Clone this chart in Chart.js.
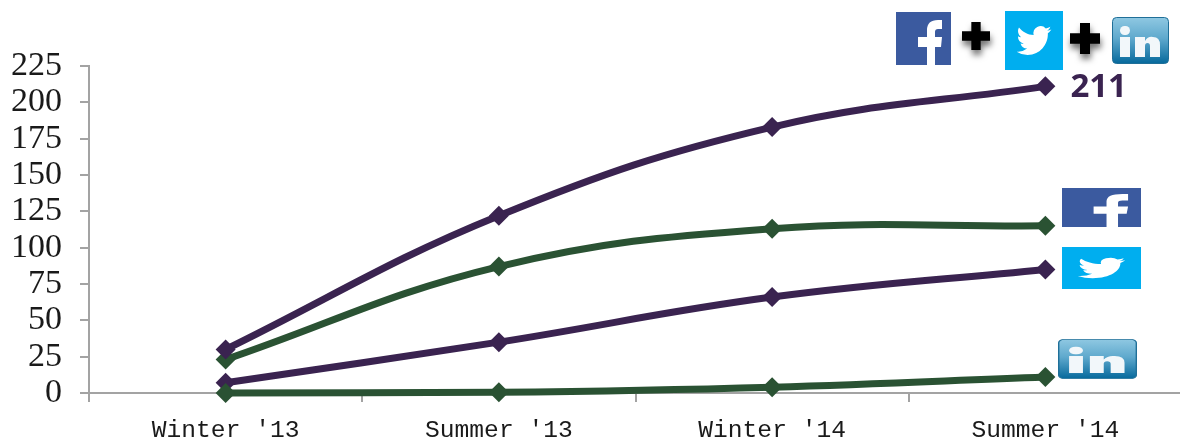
<!DOCTYPE html>
<html lang="en">
<head>
  <meta charset="UTF-8" />
  <title>Social media followers</title>
  <script src="https://cdn.jsdelivr.net/npm/chart.js"></script>
  <style>
    html, body { margin: 0; padding: 0; width: 1180px; height: 440px; overflow: hidden; background: #fff; }
    #chart { position: absolute; left: 0; top: 0; }
    svg.icon { position: absolute; overflow: visible; }
    svg.plus { filter: drop-shadow(1px 5px 3px rgba(0,0,0,.55)); }
  </style>
</head>
<body>
  <canvas id="chart" width="1200" height="440" style="width:1200px;height:440px"></canvas>

  <svg width="0" height="0" style="position:absolute">
    <defs>
      <linearGradient id="liGrad" x1="0" y1="0" x2="0" y2="1">
        <stop offset="0" stop-color="#8fc8e2" />
        <stop offset="0.45" stop-color="#5fa9cd" />
        <stop offset="1" stop-color="#06699c" />
      </linearGradient>
    </defs>
    <symbol id="fb" viewBox="0 0 55 53" preserveAspectRatio="none">
      <rect width="55" height="53" fill="#3b5a9f" />
      <path fill="#fff" d="M31 53V35H22V25H31V18Q31 8 42 8H46V17H42Q39 17 39 20V25H46L45 35H39V53Z" />
    </symbol>
    <symbol id="tw" viewBox="-8 -8 40 40" preserveAspectRatio="none">
      <rect x="-8" y="-8" width="40" height="40" fill="#00aeef" />
      <path fill="#fff" d="M23.953 4.57a10 10 0 01-2.825.775 4.958 4.958 0 002.163-2.723c-.951.555-2.005.959-3.127 1.184a4.92 4.92 0 00-8.384 4.482C7.69 8.095 4.067 6.13 1.64 3.162a4.822 4.822 0 00-.666 2.475c0 1.71.87 3.213 2.188 4.096a4.904 4.904 0 01-2.228-.616v.06a4.923 4.923 0 003.946 4.827 4.996 4.996 0 01-2.212.085 4.936 4.936 0 004.604 3.417 9.867 9.867 0 01-6.102 2.105c-.39 0-.779-.023-1.17-.067a13.995 13.995 0 007.557 2.209c9.053 0 13.998-7.496 13.998-13.985 0-.21 0-.42-.015-.63A9.935 9.935 0 0024 4.59z" />
    </symbol>
    <symbol id="li" viewBox="0 0 57 47" preserveAspectRatio="none">
      <rect x="0.5" y="0.5" width="56" height="46" rx="4" fill="url(#liGrad)" stroke="#1f6f98" />
      <rect x="8" y="9" width="10" height="9" rx="4.5" fill="#f2f7fa" />
      <rect x="8" y="20" width="10" height="20" fill="#f2f7fa" />
      <path fill="#f2f7fa" d="M23 20H33V24Q36 19 41 20Q48 20 48 28V40H38V29Q38 26 35.5 26Q33 26 33 29V40H23Z" />
    </symbol>
    <symbol id="cross" viewBox="0 0 30 30" preserveAspectRatio="none">
      <path fill="#000" d="M10 0H20V10H30V20H20V30H10V20H0V10H10Z" />
    </symbol>
  </svg>

  <svg class="icon" style="left:896px;top:12px" width="55" height="53"><use href="#fb" width="55" height="53" /></svg>
  <svg class="icon plus" style="left:962px;top:22px" width="28" height="28"><use href="#cross" width="28" height="28" /></svg>
  <svg class="icon" style="left:1005px;top:11px" width="58" height="59"><use href="#tw" width="58" height="59" /></svg>
  <svg class="icon plus" style="left:1070px;top:23px" width="30" height="31"><use href="#cross" width="30" height="31" /></svg>
  <svg class="icon" style="left:1112px;top:17px" width="57" height="47"><use href="#li" width="57" height="47" /></svg>
  <svg class="icon" style="left:1062px;top:188px" width="79" height="39"><use href="#fb" width="79" height="39" /></svg>
  <svg class="icon" style="left:1062px;top:247px" width="79" height="42"><use href="#tw" width="79" height="42" /></svg>
  <svg class="icon" style="left:1058px;top:339px" width="79" height="40"><use href="#li" width="79" height="40" /></svg>

  <script>
    const categories = ["Winter '13", "Summer '13", "Winter '14", "Summer '14"];
    const combined = [30, 122, 183, 211];
    const facebook = [23, 87, 113, 115];
    const twitter = [7, 35, 66, 85];
    const linkedin = [0, 0.5, 4, 11];
    const combinedLabel = '211';

    const PURPLE = '#3a2350';
    const GREEN = '#2a5233';
    const AXIS = '#a3a3a3';

    function series(data, color) {
      return {
        data,
        borderColor: color,
        backgroundColor: color,
        borderWidth: 7,
        tension: 0.4,
        pointStyle: 'rectRot',
        pointRadius: 10,
        pointBorderWidth: 0,
        clip: false
      };
    }

    // the 211 next to the last point of the top line
    const endLabel = {
      id: 'endLabel',
      afterDatasetsDraw(chart) {
        const { ctx, scales } = chart;
        const x = scales.x.getPixelForValue(3);
        const y = scales.y.getPixelForValue(combined[3]);
        ctx.save();
        ctx.fillStyle = PURPLE;
        ctx.font = 'bold 33px "Open Sans"';
        ctx.textAlign = 'left';
        ctx.textBaseline = 'middle';
        ctx.fillText(combinedLabel, x + 25, y + 1);
        ctx.restore();
      }
    };

    new Chart(document.getElementById('chart'), {
      type: 'line',
      data: {
        labels: categories,
        // first dataset is drawn on top
        datasets: [series(linkedin, GREEN), series(combined, PURPLE), series(facebook, GREEN), series(twitter, PURPLE)]
      },
      options: {
        responsive: false,
        animation: false,
        layout: { padding: { top: 66, right: 18, left: 0, bottom: 0 } },
        plugins: { legend: { display: false }, title: { display: false }, tooltip: { enabled: false } },
        scales: {
          x: {
            offset: true,
            afterFit(s) { s.height = 47; },
            border: { color: AXIS, width: 2 },
            grid: { offset: true, drawOnChartArea: false, color: AXIS, lineWidth: 2, tickLength: 9 },
            ticks: {
              color: '#1a1a1a',
              padding: 14,
              maxRotation: 0,
              font: { family: '"Liberation Mono"', size: 24.6 }
            }
          },
          y: {
            min: 0,
            max: 225,
            afterFit(s) { s.width = 89; },
            border: { color: AXIS, width: 2 },
            grid: { drawOnChartArea: false, color: AXIS, lineWidth: 2, tickLength: 9 },
            ticks: {
              stepSize: 25,
              autoSkip: false,
              color: '#1a1a1a',
              padding: 18,
              font: { family: '"Liberation Serif"', size: 34 }
            }
          }
        }
      },
      plugins: [endLabel]
    });
  </script>
</body>
</html>
